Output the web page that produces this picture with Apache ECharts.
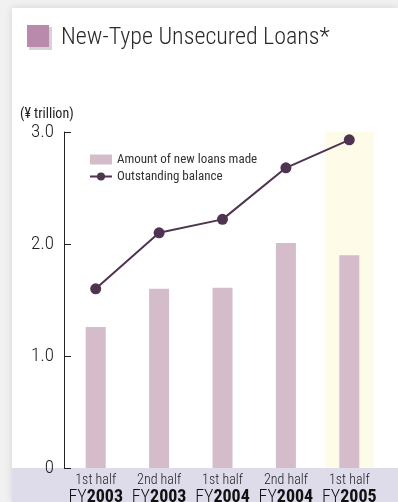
<!DOCTYPE html>
<html><head><meta charset="utf-8">
<script src="https://cdn.jsdelivr.net/npm/echarts@6/dist/echarts.min.js"></script>
<style>html,body{margin:0;padding:0;background:#f1f1f1;}#c{width:398px;height:502px;}</style>
</head><body><div id="c"></div>
<script>
const categories = ['1st half|2003','2nd half|2003','1st half|2004','2nd half|2004','1st half|2005'];
const newLoans = [1.26, 1.60, 1.61, 2.01, 1.90];
const outstanding = [1.60, 2.10, 2.22, 2.68, 2.93];
const highlight = [null, null, null, null, 3.02];
const yTicks = [0, 1.0, 2.0, 3.0];
const FONT = '"Roboto Condensed", sans-serif';

const chart = echarts.init(document.getElementById('c'), null, {renderer:'canvas'});
chart.setOption({
  animation:false,
  textStyle:{fontFamily:FONT},
  graphic:[
    {type:'rect', z:-10, shape:{x:12,y:8,width:386,height:494}, style:{fill:'#ffffff', shadowBlur:8, shadowColor:'rgba(0,0,0,0.12)'}},
    {type:'rect', z:-9, shape:{x:12,y:468,width:386,height:34}, style:{fill:'#dedbeb'}},
    {type:'rect', z:5, shape:{x:29,y:27,width:23,height:23}, style:{fill:'#d4d4d4'}},
    {type:'rect', z:6, shape:{x:27,y:25,width:22,height:22}, style:{fill:'#b98aac'}},
    {type:'text', z:6, left:61, top:26, style:{text:'New-Type Unsecured Loans*', font:'300 24px '+FONT, fill:'#2a2a2a'}},
    {type:'text', z:6, left:20, top:107, style:{text:'(¥ trillion)', font:'14px '+FONT, fill:'#222'}}
  ],
  grid:{left:64, right:17, top:132, bottom:34, containLabel:false, outerBoundsMode:'none'},
  legend:{
    left:89, top:153, padding:0, orient:'vertical', itemWidth:22, itemHeight:10, itemGap:4, itemStyle:{borderWidth:0},
    textStyle:{fontFamily:FONT, fontSize:13, color:'#333'},
    data:[{name:'Amount of new loans made', icon:'rect'}, {name:'Outstanding balance'}]
  },
  xAxis:[{
    type:'category', data:categories,
    axisLine:{show:false}, axisTick:{show:false},
    axisLabel:{
      margin:5, interval:0,
      formatter:function(v){const p=v.split('|');return '{a|'+p[0]+'}\n{b|FY}{c|'+p[1]+'}';},
      rich:{
        a:{fontFamily:FONT, fontSize:14, fontWeight:300, color:'#222', lineHeight:15},
        b:{fontFamily:FONT, fontSize:18, fontWeight:300, color:'#111', lineHeight:18},
        c:{fontFamily:FONT, fontSize:18, color:'#111', fontWeight:'bold', lineHeight:18}
      }
    }
  },{
    type:'category', data:categories, show:false
  }],
  yAxis:{
    type:'value', min:0, max:3, interval:1,
    axisLine:{show:true, lineStyle:{color:'#222', width:1}},
    axisTick:{show:true, inside:true, length:7, lineStyle:{color:'#222'}},
    splitLine:{show:false},
    axisLabel:{margin:10, fontFamily:FONT, fontSize:19, fontWeight:300, color:'#222',
      formatter:function(v){return v===0?'0':v.toFixed(1);}}
  },
  series:[
    {type:'bar', name:'hl', xAxisIndex:1, data:highlight, barWidth:49, itemStyle:{color:'#fffbe9'}, z:0, silent:true},
    {type:'bar', name:'Amount of new loans made', data:newLoans, barWidth:20, itemStyle:{color:'#d5bcca'}, z:2},
    {type:'line', name:'Outstanding balance', data:outstanding, symbol:'circle', symbolSize:11,
     lineStyle:{color:'#4e3450', width:2}, itemStyle:{color:'#4e3450'}, z:3}
  ]
});
</script></body></html>
